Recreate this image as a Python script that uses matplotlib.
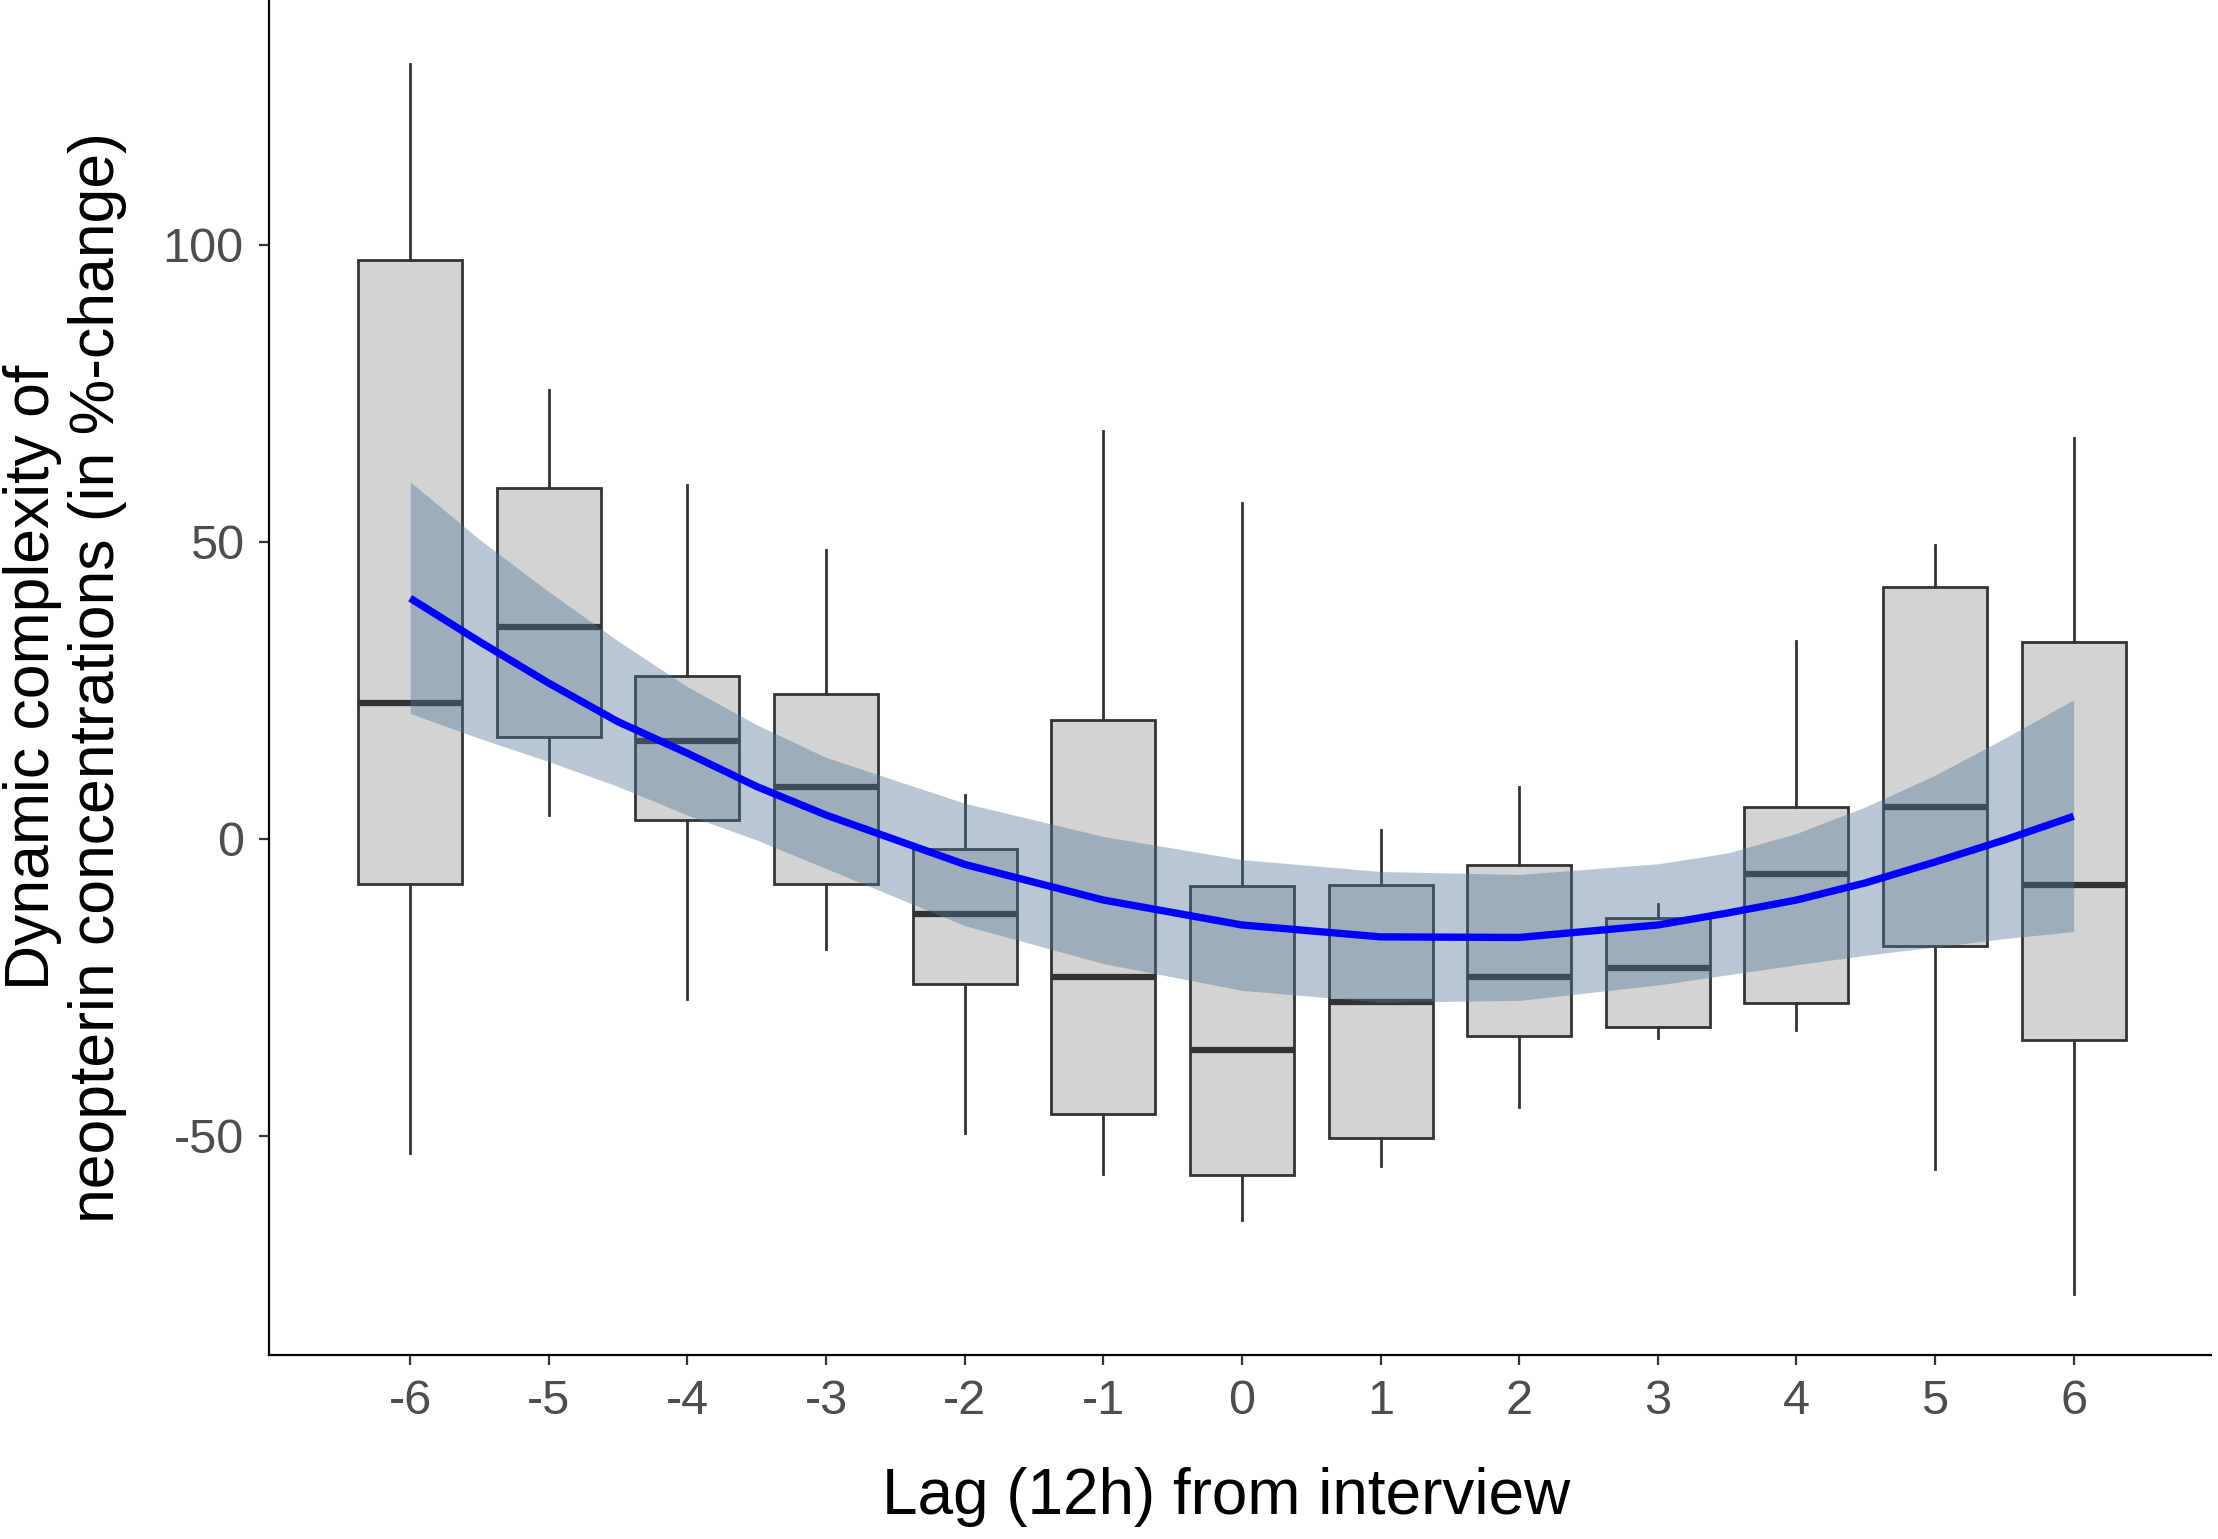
import matplotlib
matplotlib.use("Agg")
import matplotlib.pyplot as plt

plt.rcParams['font.family'] = ['Liberation Sans', 'DejaVu Sans']

# box summaries
lags = [-6, -5, -4, -3, -2, -1, 0, 1, 2, 3, 4, 5, 6]
whisk_lo = [-52.9, 4.0, -26.9, -18.6, -49.5, -56.4, -64.2, -55.0, -45.1, -33.6, -32.2, -55.5, -76.7]
q1 = [-7.6, 17.1, 3.1, -7.6, -24.5, -46.4, -56.6, -50.3, -33.2, -31.6, -27.7, -18.1, -33.9]
med = [22.9, 35.7, 16.4, 8.8, -12.6, -23.3, -35.6, -27.5, -23.3, -21.7, -6.0, 5.4, -7.8]
q3 = [97.4, 59.0, 27.4, 24.3, -1.7, 20.0, -8.0, -7.7, -4.4, -13.3, 5.4, 42.4, 33.2]
whisk_hi = [130.5, 75.5, 59.5, 48.6, 7.4, 68.6, 56.5, 1.5, 8.7, -11.0, 33.3, 49.5, 67.4]

# fitted curve and its confidence band, read at these lags
fit_x = [-6, -5.5, -5, -4.5, -4, -3.5, -3, -2, -1, 0, 1, 2, 3, 3.5, 4, 4.5, 5, 5.5, 6]
fit = [40.5, 33.2, 26.2, 19.7, 14.4, 8.8, 4.0, -4.3, -10.3, -14.5, -16.5, -16.6,
       -14.5, -12.5, -10.3, -7.4, -3.9, -0.2, 3.8]
band_hi = [60.1, 50.4, 41.6, 33.3, 25.6, 19.2, 13.7, 6.0, 0.4, -3.5, -5.5, -6.0,
           -4.2, -2.4, 0.9, 5.4, 10.7, 16.9, 23.4]
band_lo = [21.1, 16.9, 13.0, 8.8, 4.0, -0.2, -5.0, -14.6, -21.0, -25.5, -27.5, -27.2,
           -24.6, -22.9, -21.2, -19.6, -18.2, -16.8, -15.6]

fig = plt.figure(figsize=(22.18, 15.39), dpi=100)
ax = fig.add_axes([0.1212, 0.1195, 0.8756, 0.8805])

stats = []
for i in range(len(lags)):
    stats.append({'med': med[i], 'q1': q1[i], 'q3': q3[i],
                  'whislo': whisk_lo[i], 'whishi': whisk_hi[i], 'fliers': []})

edge = '#333333'
ax.bxp(stats, positions=lags, widths=0.75, patch_artist=True, showcaps=False,
       boxprops=dict(facecolor='#D3D3D3', edgecolor=edge, linewidth=2.0),
       whiskerprops=dict(color=edge, linewidth=2.0),
       medianprops=dict(color=edge, linewidth=4.5, solid_capstyle='butt'),
       zorder=2)

# confidence band sits on top of the boxes
ax.fill_between(fit_x, band_lo, band_hi, color='#507596', alpha=0.4,
                linewidth=0, zorder=3)
ax.plot(fit_x, fit, color='#0000FF', linewidth=5.3, zorder=4,
        solid_capstyle='butt', solid_joinstyle='round')

ax.set_xlim(-7.02, 6.99)
ax.set_ylim(-86.9, 141.2)
ax.set_xticks(lags)
ax.set_xticklabels([str(v) for v in lags])
ax.set_yticks([-50, 0, 50, 100])
ax.set_yticklabels(['-50', '0', '50', '100'])

for s in ['top', 'right']:
    ax.spines[s].set_visible(False)
for s in ['left', 'bottom']:
    ax.spines[s].set_linewidth(1.6)
    ax.spines[s].set_color('black')

ax.tick_params(axis='both', length=7, width=1.6, color='#333333',
               labelsize=35, labelcolor='#4D4D4D')
ax.tick_params(axis='x', pad=10)
ax.tick_params(axis='y', pad=11)

fig.text(0.553, 0.0276, 'Lag (12h) from interview', fontsize=46,
         ha='center', va='center')
fig.text(0.0293, 0.1195 + 0.8805 / 2,
         'Dynamic complexity of\nneopterin concentrations (in %-change)',
         fontsize=45, rotation=90, ha='center', va='center',
         multialignment='center', linespacing=1.15)

fig.savefig('out.png', dpi=100)
